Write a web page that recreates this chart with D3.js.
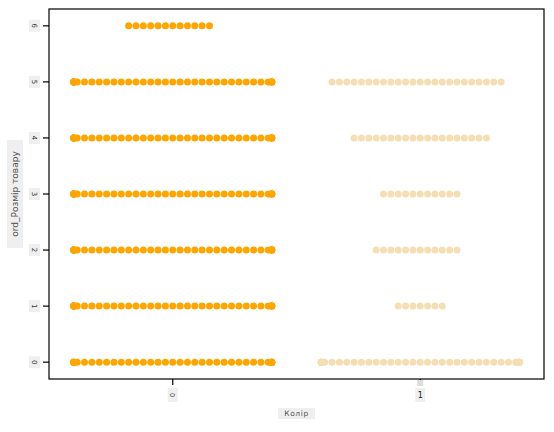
<!DOCTYPE html>
<html>
<head>
<meta charset="utf-8">
<script src="https://cdn.jsdelivr.net/npm/d3@7"></script>
<style>
  body { margin: 0; background: #fff; }
  text { font-family: "DejaVu Sans", sans-serif; fill: #555; }
</style>
</head>
<body>
<script>
var colorCats = ["0", "1"];
var sizeCats = ["0", "1", "2", "3", "4", "5", "6"];
var countsColor0 = [38, 38, 38, 38, 38, 38, 12];
var countsColor1 = [38, 7, 12, 11, 19, 24, 0];
var colors = ["#FFA500", "#F5DEB3"];

var width = 554, height = 432;
var plotLeft = 49, plotRight = 544, plotTop = 9, plotBottom = 379;

var svg = d3.select("body").append("svg")
    .attr("width", width)
    .attr("height", height);

var x = d3.scaleBand().domain(colorCats).range([plotLeft, plotRight]);
var y = d3.scalePoint().domain(sizeCats).range([plotBottom, plotTop]).padding(0.3);

// build swarm points: first at centre, then alternate, clamp to 80% of band
var points = [];
var gap = 7.35;
var half = x.bandwidth() * 0.4;
[countsColor0, countsColor1].forEach(function (counts, ci) {
    counts.forEach(function (n, si) {
        for (var i = 0; i < n; i++) {
            var k = i === 0 ? 0 : (i % 2 === 1 ? Math.ceil(i / 2) : -i / 2);
            // the extra point of an even row goes on the left
            k = -k;
            var off = Math.max(-half, Math.min(half, k * gap));
            points.push({ c: ci, s: sizeCats[si], off: off });
        }
    });
});

svg.append("g").selectAll("circle")
    .data(points)
    .enter()
    .append("circle")
    .attr("cx", function (d) { return x(colorCats[d.c]) + x.bandwidth() / 2 + d.off; })
    .attr("cy", function (d) { return y(d.s); })
    .attr("r", 3.5)
    .attr("fill", function (d) { return colors[d.c]; });

// frame
svg.append("rect")
    .attr("x", plotLeft).attr("y", plotTop)
    .attr("width", plotRight - plotLeft).attr("height", plotBottom - plotTop)
    .attr("fill", "none").attr("stroke", "#000").attr("stroke-width", 1.2);

// y ticks
var yt = svg.append("g").selectAll("g")
    .data(sizeCats)
    .enter()
    .append("g")
    .attr("transform", function (d) { return "translate(0," + y(d) + ")"; });
yt.append("line")
    .attr("x1", 43).attr("x2", plotLeft)
    .attr("stroke", "#000").attr("stroke-width", 1.2);
yt.append("rect")
    .attr("x", 29).attr("y", -6).attr("width", 11).attr("height", 12)
    .attr("fill", "#efefef");
yt.append("text")
    .attr("transform", "translate(34.5,0) rotate(90)")
    .attr("text-anchor", "middle")
    .attr("dy", "0.35em")
    .style("font-size", "7px")
    .style("fill", "#333")
    .text(function (d) { return d; });

// x ticks
var xt = svg.append("g").selectAll("g")
    .data(colorCats)
    .enter()
    .append("g")
    .attr("transform", function (d) { return "translate(" + (x(d) + x.bandwidth() / 2) + ",0)"; });
xt.append("line")
    .attr("y1", plotBottom).attr("y2", 385)
    .attr("stroke", "#000").attr("stroke-width", 1.2);
xt.append("rect")
    .attr("x", -5).attr("y", 388).attr("width", 10).attr("height", 14)
    .attr("fill", "#efefef");
xt.append("text")
    .attr("transform", function (d, i) {
        return "translate(0,395)" + (i === 0 ? " rotate(90)" : "");
    })
    .attr("text-anchor", "middle")
    .attr("dy", "0.35em")
    .style("font-size", function (d, i) { return i === 0 ? "6.5px" : "8px"; })
    .style("fill", function (d, i) { return i === 0 ? "#444" : "#222"; })
    .text(function (d) { return d; });
// small grey mark over the second tick
svg.append("rect")
    .attr("x", x("1") + x.bandwidth() / 2 - 3).attr("y", 380)
    .attr("width", 6).attr("height", 6)
    .attr("fill", "#ddd");

// axis titles
svg.append("rect")
    .attr("x", 278).attr("y", 408).attr("width", 37).attr("height", 11)
    .attr("fill", "#efefef");
svg.append("text")
    .attr("x", 296.5).attr("y", 413.5)
    .attr("text-anchor", "middle").attr("dy", "0.35em")
    .style("font-size", "7.5px").style("letter-spacing", "0.6px")
    .text("Колір");

svg.append("rect")
    .attr("x", 7).attr("y", 140).attr("width", 16).attr("height", 108)
    .attr("fill", "#efefef");
svg.append("text")
    .attr("transform", "translate(15,194) rotate(-90)")
    .attr("text-anchor", "middle").attr("dy", "0.35em")
    .style("font-size", "9px")
    .text("ord_Розмір товару");
</script>
</body>
</html>
